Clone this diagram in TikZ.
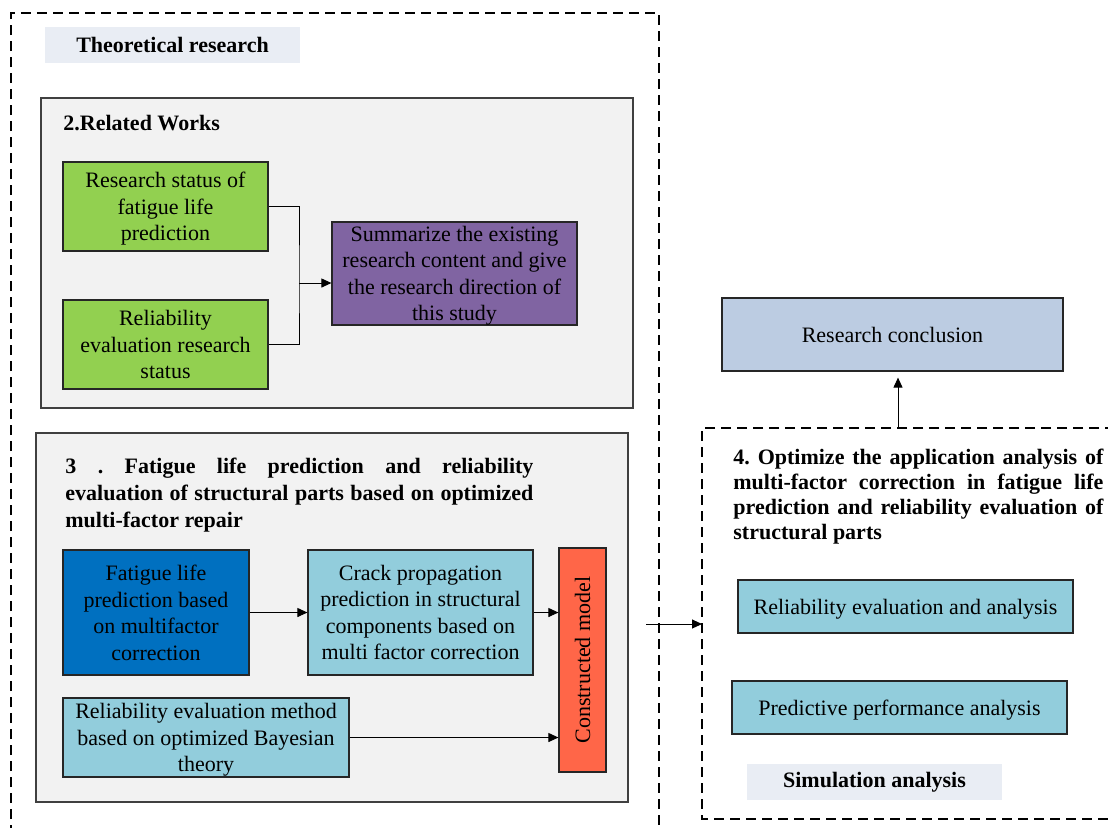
\documentclass[tikz,border=0pt]{standalone}
\usepackage{fontspec}
\setmainfont{Liberation Serif}
\usepackage{graphicx}
\usetikzlibrary{arrows.meta}
\definecolor{labelblue}{RGB}{233,237,244}
\definecolor{panelgray}{RGB}{242,242,242}
\definecolor{leafgreen}{RGB}{146,208,80}
\definecolor{summpurple}{RGB}{128,100,162}
\definecolor{deepblue}{RGB}{0,112,192}
\definecolor{paleteal}{RGB}{146,205,220}
\definecolor{modelred}{RGB}{255,102,72}
\definecolor{conclblue}{RGB}{188,204,226}
\frenchspacing
\tikzset{
every node/.style={font=\fontsize{11}{13.25}\selectfont, inner sep=0pt},
fillbox/.style={draw=black!85, line width=0.6pt, align=center, text depth=0pt},
panel/.style={draw=black!75, fill=panelgray, line width=0.8pt},
tag/.style={fill=labelblue, font=\fontsize{11}{13.25}\selectfont\bfseries},
headline/.style={anchor=base west, align=justify, font=\fontsize{11}{#1}\selectfont\bfseries},
flow/.style={-{Triangle[length=5pt,width=4.5pt]}, line width=0.5pt},
frame/.style={dash pattern=on 5pt off 3pt, line width=0.55pt}
}
\newcommand{\px}{0.5pt}

\begin{document}
\begin{tikzpicture}[x=0.5pt,y=-0.5pt]

\useasboundingbox (0,0) rectangle (1108,827);

\draw[frame] (11,835) -- (11,13) -- (659,13) -- (659,835);
\node[tag, minimum width=255*\px, minimum height=36*\px] (theory) at (172.5,45) {Theoretical research};

% 2. related works
\node[panel, minimum width=592*\px, minimum height=310*\px] (related) at (337,253) {};
\node[anchor=west, font=\fontsize{11}{13.25}\selectfont\bfseries] (relatedtitle) at (63,123) {2.Related Works};

\node[fillbox, fill=leafgreen, minimum width=205*\px, minimum height=89*\px] (status) at (165.5,206.5) {Research status of\\fatigue life\\prediction};
\node[fillbox, fill=leafgreen, minimum width=205*\px, minimum height=89*\px] (evalstatus) at (165.5,344.5) {Reliability\\evaluation research\\status};
\node[fillbox, fill=summpurple, minimum width=245*\px, minimum height=103*\px] (summary) at (454.5,273.5) {Summarize the existing\\research content and give\\the research direction of\\this study};

\coordinate (merge) at (299,283);
\draw[line width=0.5pt] (status.east) -| (merge) |- (evalstatus.east);
\draw[flow] (merge) -- (merge -| summary.west);

% 3. fatigue life and reliability
\node[panel, minimum width=592*\px, minimum height=369*\px] (fatigue) at (332,617.5) {};
\node[headline=13.5, text width=468*\px] (fatiguetitle) at (65,473) {3 . Fatigue life prediction and reliability\linebreak evaluation of structural parts based on optimized\linebreak multi-factor repair};

\node[fillbox, fill=deepblue, minimum width=186*\px, minimum height=125*\px] (lifepred) at (156,612.5) {Fatigue life\\prediction based\\on multifactor\\correction};
\node[fillbox, fill=paleteal, minimum width=225*\px, minimum height=125*\px] (crack) at (420.5,612.5) {Crack propagation\\prediction in structural\\components based on\\multi factor correction};
\node[fillbox, fill=paleteal, minimum width=286*\px, minimum height=79*\px] (bayes) at (206,737.5) {Reliability evaluation method\\based on optimized Bayesian\\theory};
\node[fillbox, fill=modelred, minimum width=47*\px, minimum height=224*\px] (model) at (582.5,660) {\rotatebox{90}{Constructed model}};

\draw[flow] (lifepred.east) -- (crack.west);
\draw[flow] (crack.east) -- (crack.east -| model.west);
\draw[flow] (bayes.east) -- (bayes.east -| model.west);

% 4. simulation analysis
\node[fillbox, fill=conclblue, minimum width=341*\px, minimum height=73*\px] (conclusion) at (892.5,334.5) {Research conclusion};

\draw[frame] (1115,428) -- (702,428) -- (702,819) -- (1115,819);
\node[headline=12.5, text width=370*\px] (simtitle) at (733,464) {4. Optimize the application analysis of\linebreak multi-factor correction in fatigue life\linebreak prediction and reliability evaluation of\linebreak structural parts};

\node[fillbox, fill=paleteal, minimum width=335*\px, minimum height=53*\px] (releval) at (905.5,606.5) {Reliability evaluation and analysis};
\node[fillbox, fill=paleteal, minimum width=335*\px, minimum height=53*\px] (predperf) at (899.5,707.5) {Predictive performance analysis};
\node[tag, minimum width=255*\px, minimum height=36*\px] (simlabel) at (874.5,782) {Simulation analysis};

\coordinate (simtop) at (898,428);
\draw[flow, shorten >=3pt] (simtop) -- (simtop |- conclusion.south);

\coordinate (handoff) at (646,624);
\coordinate (simleft) at (702,624);
\draw[flow] (handoff) -- (simleft);

\end{tikzpicture}
\end{document}
